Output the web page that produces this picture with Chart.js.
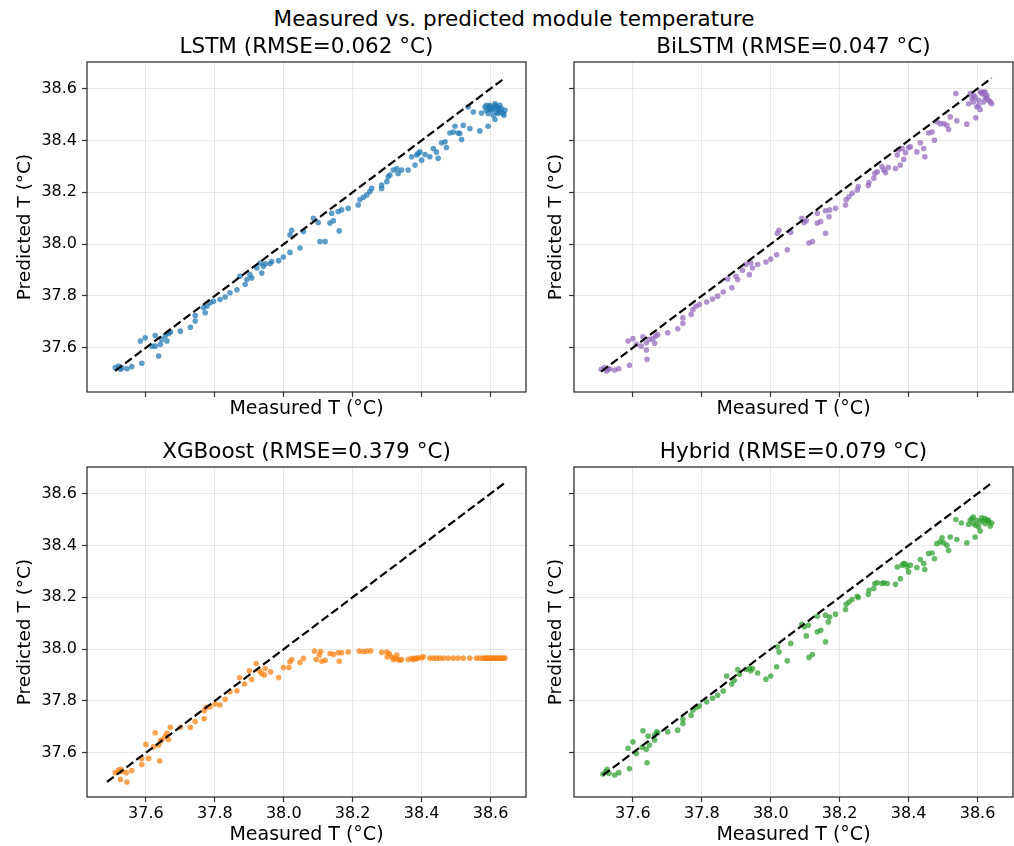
<!DOCTYPE html>
<html>
<head>
<meta charset="utf-8">
<title>Measured vs. predicted module temperature</title>
<script src="https://cdn.jsdelivr.net/npm/chart.js@4.4.1/dist/chart.umd.min.js"></script>
<style>
  html, body { margin: 0; padding: 0; background: #fff; overflow: hidden; }
  body { width: 1014px; height: 846px; position: relative; font-family: 'DejaVu Sans', sans-serif; }
  canvas { position: absolute; }
  #suptitle { position: absolute; left: 0; top: 6px; width: 1028px; text-align: center;
              font-size: 21.5px; line-height: 26px; color: #000; }
</style>
</head>
<body>
<div id="suptitle">Measured vs. predicted module temperature</div>
<canvas id="c-lstm" width="540" height="412" style="left:0px;top:30px"></canvas>
<canvas id="c-bilstm" width="540" height="412" style="left:487px;top:30px"></canvas>
<canvas id="c-xgb" width="540" height="412" style="left:0px;top:435px"></canvas>
<canvas id="c-hybrid" width="540" height="412" style="left:487px;top:435px"></canvas>
<script>
// shared axis settings (sharex / sharey)
const tickValues = [37.6, 37.8, 38.0, 38.2, 38.4, 38.6];
const axisMin = 37.429;
const axisMax = 38.703;

// LSTM
const lstmMeasured = [
  37.511,37.521,37.526,37.530,37.545,37.559,37.588,37.584,37.598,37.617,
  37.627,37.627,37.637,37.642,37.646,37.656,37.661,37.666,37.671,37.700,
  37.729,37.743,37.743,37.767,37.772,37.777,37.786,37.796,37.815,37.830,
  37.844,37.864,37.873,37.888,37.893,37.902,37.907,37.922,37.931,37.936,
  37.941,37.946,37.960,37.965,37.985,37.999,38.018,38.018,38.023,38.047,
  38.057,38.086,38.100,38.105,38.120,38.134,38.139,38.144,38.158,38.161,
  38.168,38.187,38.216,38.221,38.231,38.241,38.250,38.255,38.284,38.284,
  38.299,38.303,38.308,38.318,38.328,38.332,38.342,38.361,38.371,38.381,
  38.386,38.390,38.395,38.400,38.410,38.424,38.434,38.443,38.448,38.458,
  38.468,38.472,38.482,38.492,38.497,38.506,38.511,38.516,38.521,38.535,
  38.540,38.550,38.569,38.574,38.584,38.588,38.593,38.593,38.598,38.603,
  38.608,38.613,38.613,38.617,38.622,38.627,38.632,38.637,38.639,38.642,
  38.617,38.588,38.603,38.622,38.600,38.610,38.625,38.595,38.630,38.615
];
const lstmPredicted = [
  37.523,37.529,37.517,37.523,37.519,37.527,37.540,37.626,37.638,37.606,
  37.647,37.606,37.568,37.613,37.632,37.645,37.626,37.655,37.660,37.664,
  37.679,37.703,37.724,37.754,37.735,37.760,37.773,37.779,37.786,37.796,
  37.812,37.824,37.876,37.844,37.863,37.882,37.869,37.908,37.927,37.888,
  37.914,37.924,37.924,37.933,37.936,37.950,37.968,38.036,38.053,37.985,
  38.049,38.100,38.083,38.010,38.010,38.081,38.119,38.090,38.126,38.051,
  38.132,38.138,38.151,38.171,38.181,38.190,38.203,38.215,38.228,38.215,
  38.241,38.260,38.267,38.286,38.292,38.273,38.286,38.286,38.337,38.305,
  38.344,38.350,38.356,38.324,38.346,38.337,38.369,38.356,38.331,38.391,
  38.395,38.373,38.429,38.433,38.455,38.429,38.427,38.404,38.459,38.529,
  38.446,38.510,38.437,38.506,38.529,38.517,38.504,38.455,38.536,38.523,
  38.497,38.481,38.542,38.529,38.517,38.536,38.523,38.504,38.497,38.517,
  38.510,38.536,38.517,38.504,38.530,38.525,38.525,38.520,38.510,38.535
];

// BiLSTM
const bilstmMeasured = [
  37.508,37.518,37.523,37.528,37.532,37.547,37.559,37.590,37.586,37.600,
  37.610,37.624,37.629,37.639,37.639,37.641,37.648,37.658,37.663,37.666,
  37.672,37.701,37.730,37.745,37.745,37.769,37.774,37.783,37.793,37.814,
  37.831,37.846,37.862,37.875,37.887,37.899,37.904,37.918,37.928,37.938,
  37.942,37.947,37.962,37.986,38.000,38.017,38.019,38.024,38.048,38.058,
  38.090,38.097,38.103,38.111,38.121,38.135,38.135,38.145,38.159,38.159,
  38.169,38.171,38.188,38.217,38.219,38.227,38.236,38.251,38.254,38.283,
  38.285,38.299,38.302,38.309,38.323,38.328,38.333,38.341,38.362,38.376,
  38.367,38.371,38.381,38.386,38.391,38.400,38.405,38.424,38.434,38.444,
  38.447,38.458,38.468,38.475,38.482,38.492,38.502,38.511,38.516,38.521,
  38.537,38.540,38.569,38.574,38.579,38.584,38.588,38.593,38.595,38.598,
  38.603,38.608,38.612,38.617,38.622,38.627,38.632,38.637,38.641,38.588,
  38.603,38.617,38.627,38.608,38.622
];
const bilstmPredicted = [
  37.517,37.523,37.510,37.517,37.519,37.514,37.519,37.532,37.626,37.635,
  37.613,37.606,37.642,37.619,37.591,37.555,37.632,37.635,37.617,37.645,
  37.651,37.658,37.673,37.715,37.694,37.728,37.747,37.760,37.767,37.776,
  37.788,37.799,37.815,37.865,37.831,37.876,37.863,37.899,37.921,37.882,
  37.927,37.908,37.921,37.931,37.942,37.959,38.042,38.053,37.978,38.046,
  38.100,38.083,38.091,38.004,38.010,38.119,38.081,38.087,38.129,38.042,
  38.106,38.132,38.138,38.151,38.171,38.183,38.196,38.209,38.222,38.226,
  38.238,38.254,38.273,38.279,38.299,38.286,38.276,38.296,38.292,38.305,
  38.344,38.363,38.369,38.327,38.353,38.373,38.376,38.356,38.391,38.369,
  38.337,38.429,38.433,38.401,38.472,38.465,38.465,38.459,38.442,38.491,
  38.581,38.476,38.463,38.542,38.581,38.562,38.549,38.568,38.488,38.529,
  38.536,38.519,38.581,38.587,38.568,38.574,38.555,38.549,38.542,38.574,
  38.555,38.549,38.562,38.587,38.587
];

// XGBoost
const xgbMeasured = [
  37.511,37.521,37.526,37.530,37.528,37.545,37.543,37.559,37.588,37.588,
  37.600,37.608,37.622,37.627,37.637,37.640,37.642,37.646,37.656,37.661,
  37.666,37.671,37.700,37.729,37.743,37.769,37.769,37.775,37.786,37.801,
  37.815,37.830,37.844,37.864,37.872,37.886,37.900,37.907,37.920,37.929,
  37.936,37.944,37.946,37.962,37.985,37.999,38.015,38.018,38.023,38.047,
  38.057,38.089,38.094,38.103,38.107,38.110,38.120,38.134,38.144,38.158,
  38.161,38.168,38.187,38.219,38.231,38.241,38.252,38.284,38.299,38.300,
  38.306,38.313,38.318,38.323,38.328,38.332,38.337,38.342,38.361,38.371,
  38.376,38.381,38.386,38.390,38.400,38.405,38.424,38.434,38.443,38.453,
  38.463,38.477,38.492,38.506,38.521,38.540,38.559,38.569,38.579,38.588,
  38.598,38.608,38.617,38.627,38.637,38.642,38.583,38.593,38.603,38.612,
  38.622,38.632
];
const xgbPredicted = [
  37.523,37.533,37.497,37.527,37.536,37.487,37.523,37.531,37.554,37.578,
  37.632,37.578,37.623,37.677,37.630,37.568,37.646,37.649,37.662,37.675,
  37.651,37.698,37.698,37.698,37.720,37.731,37.762,37.775,37.777,37.788,
  37.784,37.806,37.835,37.839,37.889,37.865,37.916,37.883,37.944,37.916,
  37.906,37.900,37.925,37.912,37.890,37.929,37.929,37.951,37.960,37.948,
  37.964,37.992,37.960,37.977,37.991,37.953,37.957,37.983,37.980,37.986,
  37.953,37.986,37.989,37.992,37.991,37.992,37.993,37.988,37.989,37.970,
  37.983,37.970,37.960,37.964,37.977,37.960,37.957,37.960,37.960,37.964,
  37.960,37.964,37.963,37.966,37.966,37.970,37.965,37.965,37.965,37.965,
  37.965,37.965,37.965,37.965,37.965,37.965,37.965,37.965,37.965,37.965,
  37.965,37.965,37.965,37.965,37.965,37.965,37.965,37.965,37.965,37.965,
  37.965,37.965
];

// Hybrid
const hybridMeasured = [
  37.513,37.521,37.525,37.531,37.547,37.559,37.590,37.586,37.600,37.610,
  37.627,37.629,37.639,37.641,37.644,37.648,37.663,37.663,37.669,37.672,
  37.701,37.730,37.745,37.745,37.769,37.774,37.783,37.793,37.814,37.831,
  37.846,37.862,37.872,37.887,37.894,37.904,37.909,37.928,37.938,37.942,
  37.947,37.962,37.986,38.000,38.017,38.019,38.024,38.048,38.058,38.090,
  38.097,38.103,38.109,38.111,38.121,38.135,38.135,38.145,38.159,38.159,
  38.167,38.171,38.188,38.217,38.219,38.227,38.236,38.251,38.254,38.283,
  38.285,38.299,38.302,38.309,38.323,38.328,38.338,38.362,38.376,38.367,
  38.381,38.386,38.391,38.396,38.400,38.405,38.424,38.434,38.444,38.447,
  38.458,38.468,38.475,38.482,38.492,38.497,38.502,38.511,38.516,38.521,
  38.537,38.540,38.553,38.569,38.574,38.579,38.584,38.588,38.593,38.595,
  38.598,38.603,38.608,38.612,38.617,38.622,38.627,38.632,38.637,38.641,
  38.588,38.608,38.622,38.632
];
const hybridPredicted = [
  37.518,37.527,37.536,37.520,37.514,37.523,37.538,37.617,37.642,37.597,
  37.621,37.685,37.613,37.561,37.664,37.630,37.649,37.668,37.681,37.677,
  37.681,37.687,37.713,37.729,37.745,37.765,37.775,37.780,37.797,37.810,
  37.822,37.838,37.896,37.865,37.880,37.921,37.903,37.921,37.925,37.916,
  37.925,37.908,37.884,37.896,37.932,38.009,37.989,37.955,38.022,38.096,
  38.086,38.051,38.092,37.968,37.979,38.127,38.067,38.073,38.131,38.028,
  38.105,38.124,38.135,38.153,38.173,38.182,38.191,38.204,38.199,38.212,
  38.227,38.234,38.253,38.256,38.253,38.256,38.253,38.250,38.272,38.317,
  38.324,38.330,38.328,38.317,38.298,38.324,38.315,38.346,38.330,38.307,
  38.369,38.371,38.349,38.407,38.414,38.430,38.410,38.401,38.381,38.433,
  38.500,38.423,38.487,38.410,38.482,38.497,38.504,38.484,38.433,38.478,
  38.497,38.471,38.456,38.507,38.497,38.504,38.497,38.491,38.474,38.487,
  38.510,38.491,38.484,38.497
];

const FONT = "'DejaVu Sans', sans-serif";

// matplotlib draws all four spines, Chart.js only the axis side -> stroke the whole box
const framePlugin = {
  id: 'frame',
  afterDatasetsDraw(chart) {
    const { ctx, chartArea: a } = chart;
    ctx.save();
    ctx.strokeStyle = '#222';
    ctx.lineWidth = 1.2;
    ctx.strokeRect(a.left, a.top, a.right - a.left, a.bottom - a.top);
    ctx.restore();
  }
};

function makePanel(id, title, measured, predicted, color, bottomRow, leftCol) {
  const points = measured.map((x, i) => ({ x: x, y: predicted[i] }));
  const lo = Math.min(...measured, ...predicted);
  const hi = Math.max(...measured, ...predicted);
  const gridOpts = {
    color: 'rgba(176,176,176,0.3)',
    lineWidth: 1,
    tickColor: '#333',
    tickLength: 5,
    tickWidth: 1.2
  };

  new Chart(document.getElementById(id), {
    type: 'scatter',
    data: {
      datasets: [
        {
          // y = x reference line
          data: [{ x: lo, y: lo }, { x: hi, y: hi }],
          showLine: true,
          borderColor: '#000',
          borderWidth: 2.2,
          borderDash: [8.5, 3.7],
          pointRadius: 0,
          fill: false,
          order: 0
        },
        {
          data: points,
          backgroundColor: color,
          borderWidth: 0,
          pointRadius: 2.8,
          order: 1
        }
      ]
    },
    options: {
      responsive: false,
      animation: false,
      devicePixelRatio: 1,
      layout: { padding: { left: 0, top: 0, right: 14, bottom: 0 } },
      plugins: {
        legend: { display: false },
        tooltip: { enabled: false },
        title: {
          display: true,
          text: title,
          fullSize: false,
          color: '#000',
          font: { family: FONT, size: 21.5, weight: 'normal' },
          padding: { top: 4.3, bottom: 1.9 }
        }
      },
      scales: {
        x: {
          type: 'linear',
          min: axisMin,
          max: axisMax,
          afterBuildTicks: s => { s.ticks = tickValues.map(v => ({ value: v })); },
          afterFit: s => { s.height = 50; },
          grid: gridOpts,
          border: { display: false },
          ticks: {
            display: bottomRow,
            color: '#000',
            padding: 2,
            maxRotation: 0,
            font: { family: FONT, size: 16 },
            callback: v => v.toFixed(1)
          },
          title: {
            display: true,
            text: 'Measured T (°C)',
            color: '#000',
            font: { family: FONT, size: 19 },
            padding: { top: 0, bottom: bottomRow ? 0.6 : 21.3 }
          }
        },
        y: {
          type: 'linear',
          min: axisMin,
          max: axisMax,
          afterBuildTicks: s => { s.ticks = tickValues.map(v => ({ value: v })); },
          afterFit: s => { s.width = 87; },
          grid: gridOpts,
          border: { display: false },
          ticks: {
            display: leftCol,
            color: '#000',
            padding: 5,
            font: { family: FONT, size: 16 },
            callback: v => v.toFixed(1)
          },
          title: {
            display: true,
            text: 'Predicted T (°C)',
            color: '#000',
            font: { family: FONT, size: 18.5 },
            padding: { top: leftCol ? 13.9 : 57.9, bottom: 0 }
          }
        }
      }
    },
    plugins: [framePlugin]
  });
}

makePanel('c-lstm', 'LSTM (RMSE=0.062 °C)', lstmMeasured, lstmPredicted, 'rgba(31,119,180,0.72)', false, true);
makePanel('c-bilstm', 'BiLSTM (RMSE=0.047 °C)', bilstmMeasured, bilstmPredicted, 'rgba(148,103,189,0.72)', false, false);
makePanel('c-xgb', 'XGBoost (RMSE=0.379 °C)', xgbMeasured, xgbPredicted, 'rgba(255,127,14,0.72)', true, true);
makePanel('c-hybrid', 'Hybrid (RMSE=0.079 °C)', hybridMeasured, hybridPredicted, 'rgba(44,160,44,0.72)', true, false);
</script>
</body>
</html>
